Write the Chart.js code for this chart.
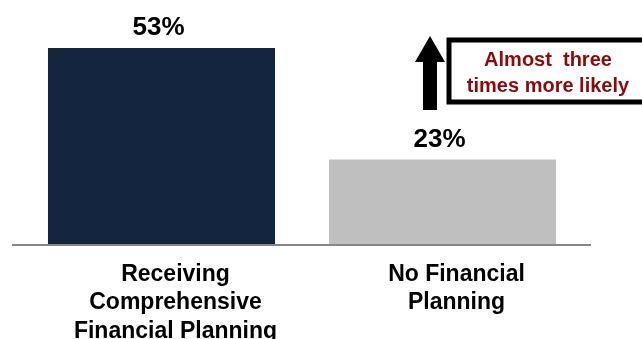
<!DOCTYPE html>
<html>
<head>
<meta charset="utf-8">
<script src="https://cdn.jsdelivr.net/npm/chart.js@4/dist/chart.umd.min.js"></script>
<style>
  html, body { margin: 0; padding: 0; background: #fff; }
  #wrap { width: 642px; height: 339px; }
</style>
</head>
<body>
<div id="wrap"><canvas id="chartPlanning" width="642" height="339"></canvas></div>
<script>
var categories = [
  ['Receiving', 'Comprehensive', 'Financial Planning'],
  ['No Financial', 'Planning']
]
var values = [53, 23]
var valueLabels = ['53%', '23%']
var barColors = ['#13253F', '#BFBFBF']
var calloutLines = ['Almost  three', 'times more likely']

var FONT = '"Liberation Sans", Arial, sans-serif'

// baseline, value labels, arrow + callout box
var decorations = {
  id: 'decorations',
  afterDatasetsDraw: function (chart) {
    var ctx = chart.ctx
    var area = chart.chartArea
    var y0 = chart.scales.y.getPixelForValue(0)

    ctx.save()
    ctx.strokeStyle = '#878787'
    ctx.lineWidth = 2
    ctx.beginPath()
    ctx.moveTo(area.left - 9, y0)
    ctx.lineTo(area.right + 8, y0)
    ctx.stroke()

    var meta = chart.getDatasetMeta(0)
    ctx.fillStyle = '#000'
    ctx.font = 'bold 26px ' + FONT
    ctx.textAlign = 'center'
    ctx.textBaseline = 'alphabetic'
    meta.data.forEach(function (bar, i) {
      ctx.fillText(valueLabels[i], bar.x - 3, bar.y - 13)
    })

    // up arrow
    ctx.fillStyle = '#000'
    ctx.beginPath()
    ctx.moveTo(430, 36)
    ctx.lineTo(445, 62)
    ctx.lineTo(437, 62)
    ctx.lineTo(437, 110)
    ctx.lineTo(423, 110)
    ctx.lineTo(423, 62)
    ctx.lineTo(415, 62)
    ctx.closePath()
    ctx.fill()

    // callout box
    ctx.strokeStyle = '#000'
    ctx.lineWidth = 5
    ctx.strokeRect(449, 40, 200, 62)
    ctx.fillStyle = '#8E0A0A'
    ctx.font = 'bold 20px ' + FONT
    ctx.textBaseline = 'middle'
    ctx.fillText(calloutLines[0], 548, 60)
    ctx.fillText(calloutLines[1], 548, 86)
    ctx.restore()
  }
}

var ctx = document.getElementById('chartPlanning').getContext('2d')
new Chart(ctx, {
  type: 'bar',
  data: {
    labels: categories,
    datasets: [
      {
        data: values,
        backgroundColor: barColors,
        categoryPercentage: 1,
        barPercentage: 0.808
      }
    ]
  },
  options: {
    responsive: false,
    animation: false,
    layout: { padding: { left: 21, right: 59, top: 22, bottom: 0 } },
    plugins: {
      legend: { display: false },
      tooltip: { enabled: false }
    },
    scales: {
      x: {
        grid: { display: false, drawTicks: false },
        border: { display: false },
        ticks: {
          color: '#000',
          font: { family: FONT, size: 23, weight: 'bold', lineHeight: 1.24 },
          padding: 15,
          labelOffset: 14,
          maxRotation: 0,
          autoSkip: false
        },
        afterFit: function (scale) { scale.height = 94 }
      },
      y: {
        display: false,
        min: 0,
        max: 60
      }
    }
  },
  plugins: [decorations]
})
</script>
</body>
</html>
